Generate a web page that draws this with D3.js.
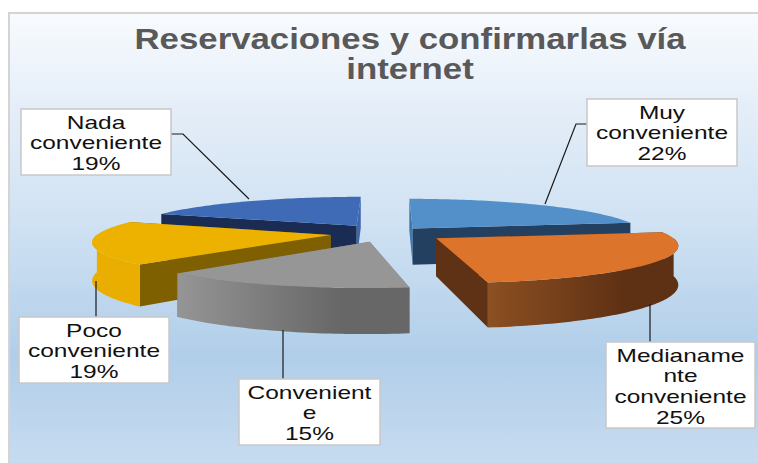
<!DOCTYPE html>
<html>
<head>
<meta charset="utf-8">
<script src="https://cdn.jsdelivr.net/npm/d3@7"></script>
<style>
  html, body { margin: 0; padding: 0; background: #fff; }
  svg { display: block; }
</style>
</head>
<body>
<div id="chart-container"></div>
<script>
// Data (labels are rounded, slice sizes)
const categories = ["Muy conveniente", "Medianamente conveniente", "Conveniente", "Poco conveniente", "Nada conveniente"];
const percents = [22.3, 25.3, 14.6, 18.9, 18.9];
const labelLines = [
    ["Muy", "conveniente", "22%"],
    ["Medianame", "nte", "conveniente", "25%"],
    ["Convenient", "e", "15%"],
    ["Poco", "conveniente", "19%"],
    ["Nada", "conveniente", "19%"]
];
const titleLines = ["Reservaciones y confirmarlas vía", "internet"];

// Styles per slice
const topColors = ["#5390c9", "#dc742c", "#969696", "#edb100", "#3f6bb6"];
const startWallColors = ["#3f78ad", "#5f3115", "#777777", "#7f6000", "#1a2c54"];
const endWallColors = ["#244061", "#5f3115", "#777777", "#7f6000", "#3c66ad"];
const outerFrom = ["#244061", "#8c5022", "#959595", "#e9ae00", "#1a2c54"];
const outerTo = ["#244061", "#5f3114", "#676767", "#e9ae00", "#1a2c54"];
const explosions = [0.168, 0.25, 0.25, 0.25, 0.25];

// Label box layout: [x, y, w, h] and the leader line
const boxes = [
    [587, 99, 150, 67],
    [606, 342, 149, 86],
    [239, 379, 141, 66],
    [19, 317, 150, 66],
    [21, 109, 150, 66]
];
const leaders = [
    [[587, 124], [576, 124], [545, 204]],
    [[650, 342], [650, 304]],
    [[283, 379], [283, 330]],
    [[96, 317], [96, 281]],
    [[171, 134], [183, 134], [249, 199]]
];

const width = 758, height = 463;

// Perspective of the tilted pie
const cx = 388, radius = 232, horizon = 8, eyeDrop = 225, eyeDist = 6.3, sliceDepth = 37;
const persp = z => eyeDist / (eyeDist - z);
const project = (X, Z, down) => [
    cx + X * radius * persp(Z),
    horizon + (eyeDrop + down) * persp(Z)
];

const svg = d3.select("#chart-container").append("svg")
    .attr("width", width)
    .attr("height", height)
    .style("font-family", "'Liberation Sans', Arial, sans-serif");

const defs = svg.append("defs");

const bg = defs.append("linearGradient").attr("id", "bg").attr("x1", 0).attr("y1", 0).attr("x2", 0).attr("y2", 1);
[[0, "#f8fbfe"], [0.2, "#e5eef8"], [0.45, "#d0e2f3"], [0.74, "#b1cee9"], [1, "#c9ddf1"]].forEach(s => {
    bg.append("stop").attr("offset", s[0]).attr("stop-color", s[1]);
});

svg.append("rect").attr("width", width).attr("height", height).attr("fill", "#fff");
svg.append("rect")
    .attr("x", 9).attr("y", 13)
    .attr("width", width).attr("height", height)
    .attr("fill", "url(#bg)")
    .attr("stroke", "#d4d4d4")
    .attr("stroke-width", 2);

// Slices
const pie = d3.pie().sort(null).value(d => d);
const arcs = pie(percents).map((a, i) => {
    const mid = (a.startAngle + a.endAngle) / 2;
    return { i, start: a.startAngle, end: a.endAngle, mid, ox: explosions[i] * Math.sin(mid), oz: -explosions[i] * Math.cos(mid) };
});

const line = d3.line();

function rim(s, a, down) {
    const X = s.ox + Math.sin(a), Z = s.oz - Math.cos(a);
    return project(X, Z, down);
}

function sampled(from, to) {
    const n = Math.max(2, Math.ceil((to - from) / 0.02));
    return d3.range(n + 1).map(k => from + (to - from) * k / n);
}

// back slices first
const order = arcs.slice().sort((a, b) => a.oz - b.oz);

order.forEach(s => {
    const g = svg.append("g");
    const apex = project(s.ox, s.oz, 0), apexLow = project(s.ox, s.oz, sliceDepth);

    const radial = [
        { a: s.start, color: startWallColors[s.i] },
        { a: s.end, color: endWallColors[s.i] }
    ].sort((p, q) => -Math.cos(p.a) - -Math.cos(q.a));

    radial.forEach(w => {
        g.append("path")
            .attr("d", line([apex, rim(s, w.a, 0), rim(s, w.a, sliceDepth), apexLow]) + "Z")
            .attr("fill", w.color);
    });

    // only the part of the rim that faces the viewer
    const from = Math.max(s.start, Math.PI / 2), to = Math.min(s.end, Math.PI * 1.5);
    if (to > from) {
        const id = "outer" + s.i;
        const grad = defs.append("linearGradient").attr("id", id);
        grad.append("stop").attr("offset", 0).attr("stop-color", outerFrom[s.i]);
        grad.append("stop").attr("offset", 0.7).attr("stop-color", outerTo[s.i]);
        const angles = sampled(from, to);
        const pts = angles.map(a => rim(s, a, 0)).concat(angles.slice().reverse().map(a => rim(s, a, sliceDepth)));
        g.append("path").attr("d", line(pts) + "Z").attr("fill", `url(#${id})`);
    }

    const topPts = [apex].concat(sampled(s.start, s.end).map(a => rim(s, a, 0)));
    g.append("path").attr("d", line(topPts) + "Z").attr("fill", topColors[s.i]);
});

// Leader lines
leaders.forEach(pts => {
    svg.append("path")
        .attr("d", line(pts))
        .attr("fill", "none")
        .attr("stroke", "#1a1a1a")
        .attr("stroke-width", 1.2);
});

// Title
const titleStretch = 1.2;
titleLines.forEach((t, i) => {
    svg.append("text")
        .attr("transform", `translate(410,${49 + i * 30}) scale(${titleStretch},1)`)
        .attr("text-anchor", "middle")
        .attr("font-size", 29)
        .attr("font-weight", "bold")
        .attr("fill", "#595959")
        .text(t);
});

// Data labels
const labelStretch = 1.4;
boxes.forEach((b, i) => {
    svg.append("rect")
        .attr("x", b[0]).attr("y", b[1]).attr("width", b[2]).attr("height", b[3])
        .attr("fill", "#fff")
        .attr("stroke", "#c8c8c8")
        .attr("stroke-width", 1.5);
    labelLines[i].forEach((t, k) => {
        svg.append("text")
            .attr("transform", `translate(${b[0] + b[2] / 2},${b[1] + 19.5 + k * 20.7}) scale(${labelStretch},1)`)
            .attr("text-anchor", "middle")
            .attr("font-size", 17.5)
            .attr("fill", "#111")
            .text(t);
    });
});
</script>
</body>
</html>
